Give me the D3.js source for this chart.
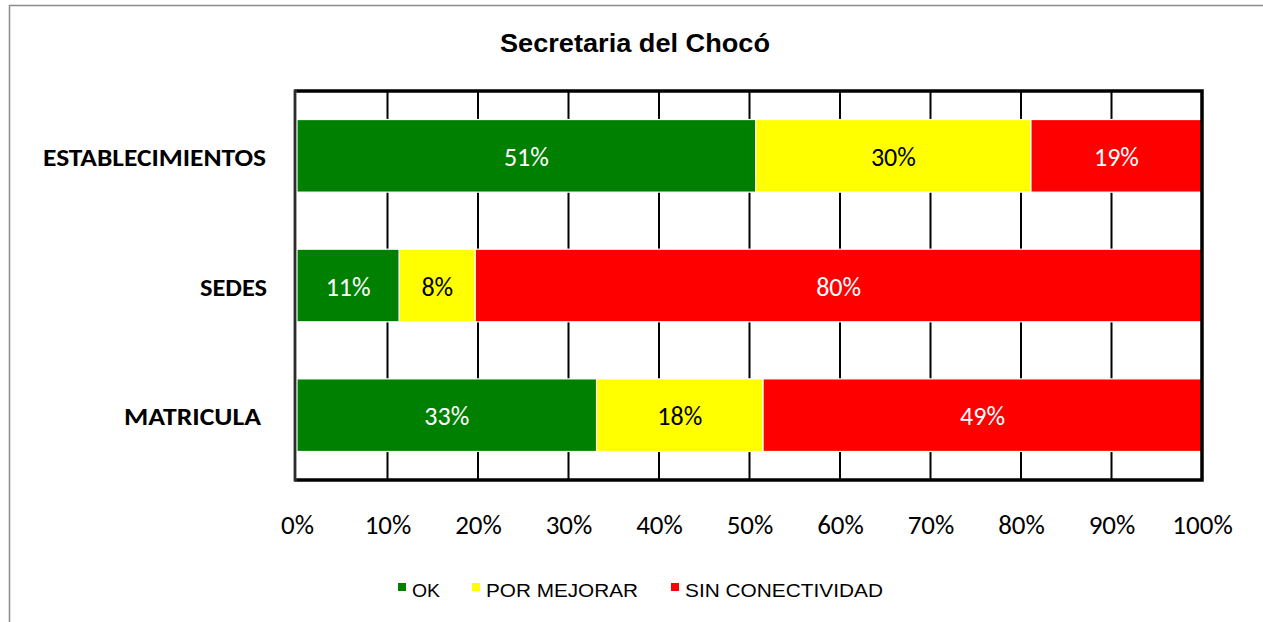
<!DOCTYPE html>
<html><head><meta charset="utf-8">
<script src="https://cdn.jsdelivr.net/npm/d3@7"></script>
<style>html,body{margin:0;padding:0;background:#fff;}svg{display:block;}</style>
</head><body>
<svg id="c" width="1263" height="622"></svg>
<script>
const title = "Secretaria del Chocó";
const categories = ["ESTABLECIMIENTOS", "SEDES", "MATRICULA"];
const seriesNames = ["OK", "POR MEJORAR", "SIN CONECTIVIDAD"];
const okValues = [50.7, 11.3, 33.1];
const porMejorarValues = [30.4, 8.4, 18.4];
const sinConectividadValues = [18.9, 80.3, 48.5];
const tickValues = [0, 10, 20, 30, 40, 50, 60, 70, 80, 90, 100];
const colors = ["#008000", "#FFFF00", "#FF0000"];
const labelColors = ["#ffffff", "#000000", "#ffffff"];

(function () {
const svg = d3.select("#c");
// outer chart border
svg.append("rect").attr("x", 9.5).attr("y", 5.5).attr("width", 1300).attr("height", 700)
  .attr("fill", "none").attr("stroke", "#8c8c8c").attr("stroke-width", 1.5);

const pL = 297, pR = 1202, pT = 91, pB = 480;
const x = d3.scaleLinear().domain([0, 100]).range([pL, pR]);
const y = d3.scaleBand().domain(categories).range([pT, pB]).paddingInner(0.44).paddingOuter(0.22);

// gridlines
svg.append("g").selectAll("line").data(tickValues.slice(1, -1)).join("line")
  .attr("x1", d => x(d)).attr("x2", d => x(d)).attr("y1", pT).attr("y2", pB)
  .attr("stroke", "#000").attr("stroke-width", 2);

const rows = categories.map((c, i) => ({cat: c, vals: [okValues[i], porMejorarValues[i], sinConectividadValues[i]]}));
const segs = [];
rows.forEach(r => {
  let acc = 0;
  r.vals.forEach((v, k) => { segs.push({cat: r.cat, k, x0: acc, x1: acc + v, v}); acc += v; });
});

svg.append("g").selectAll("rect").data(segs).join("rect")
  .attr("x", d => x(d.x0)).attr("width", d => x(d.x1) - x(d.x0))
  .attr("y", d => y(d.cat)).attr("height", y.bandwidth())
  .attr("fill", d => colors[d.k]).attr("stroke", "#fff").attr("stroke-width", 1.2);

svg.append("g").selectAll("text").data(segs).join("text")
  .attr("x", d => (x(d.x0) + x(d.x1)) / 2).attr("y", d => y(d.cat) + y.bandwidth() / 2 + 10)
  .attr("text-anchor", "middle").attr("fill", d => labelColors[d.k])
  .style("font-family", "Carlito, Calibri, Lato, sans-serif").style("font-size", "26px")
  .text(d => Math.round(d.v) + "%");

// plot border
svg.append("path").attr("d", `M${pL - 2},${pT} H${pR} V${pB} H${pL - 2}`)
  .attr("fill", "none").attr("stroke", "#000").attr("stroke-width", 3.5);
svg.append("line").attr("x1", pL - 2).attr("x2", pL - 2).attr("y1", pT - 1.5).attr("y2", pB + 1.5)
  .attr("stroke", "#555").attr("stroke-width", 3);
svg.append("line").attr("x1", pL - 2).attr("x2", pL - 2).attr("y1", pT - 1.5).attr("y2", pB + 1.5)
  .attr("stroke", "#111").attr("stroke-width", 1.2);

// x axis labels
const xAxis = d3.axisBottom(x).tickValues(tickValues).tickSize(0).tickPadding(0).tickFormat(d => d + "%");
const gx = svg.append("g").attr("transform", `translate(0,${pB})`).call(xAxis);
gx.select(".domain").remove();
gx.selectAll("text").attr("y", 54).attr("dy", 0).attr("fill", "#000")
  .style("font-family", "Carlito, Calibri, Lato, sans-serif").style("font-size", "27px");

// y axis labels
const labelWidths = {"ESTABLECIMIENTOS": 223, "SEDES": 67, "MATRICULA": 137};
const labelRight = {"ESTABLECIMIENTOS": 266, "SEDES": 267, "MATRICULA": 261};
const yAxis = d3.axisLeft(y).tickSize(0).tickPadding(0);
const gy = svg.append("g").call(yAxis);
gy.select(".domain").remove();
gy.selectAll(".tick").attr("transform", null);
gy.selectAll("text")
  .attr("x", d => labelRight[d]).attr("y", d => y(d) + y.bandwidth() / 2 + 10).attr("dy", 0)
  .attr("text-anchor", "end").attr("fill", "#000")
  .attr("textLength", d => labelWidths[d]).attr("lengthAdjust", "spacingAndGlyphs")
  .style("font-family", "Carlito, Calibri, Lato, sans-serif").style("font-size", "24px").style("font-weight", "bold");

// title
svg.append("text").attr("x", 635).attr("y", 52).attr("text-anchor", "middle")
  .style("font-family", "Liberation Sans, Arial, sans-serif").style("font-size", "26px").style("font-weight", "bold")
  .attr("textLength", 270).attr("lengthAdjust", "spacingAndGlyphs")
  .text(title);

// legend
const legendX = [398, 472, 671];
const lg = svg.append("g").selectAll("g").data(seriesNames).join("g")
  .attr("transform", (d, i) => `translate(${legendX[i]},583)`);
lg.append("rect").attr("width", 8).attr("height", 8).attr("fill", (d, i) => colors[i]);
lg.append("text").attr("x", 14).attr("y", 14)
  .style("font-family", "Liberation Sans, Arial, sans-serif").style("font-size", "19px")
  .attr("fill", "#000")
  .attr("textLength", (d, i) => [28, 152, 198][i]).attr("lengthAdjust", "spacingAndGlyphs")
  .text(d => d);
})();
</script>
</body></html>
